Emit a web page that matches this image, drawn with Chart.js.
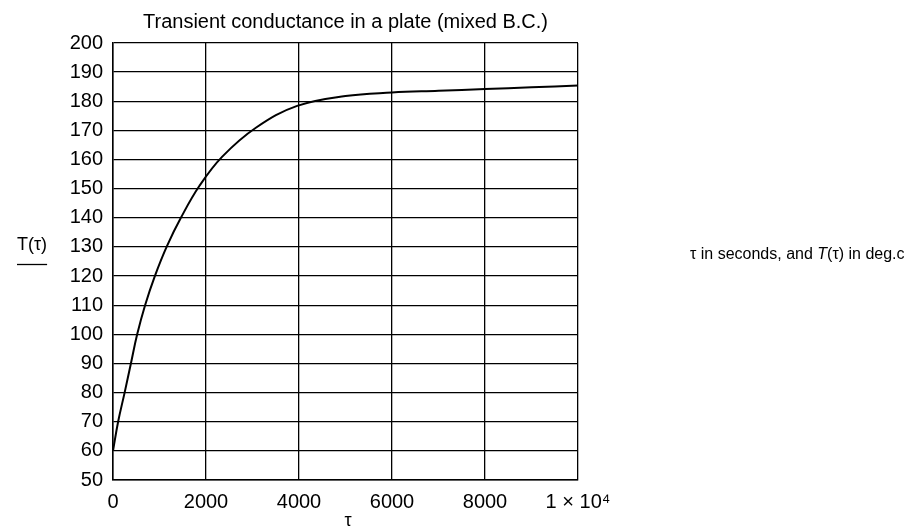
<!DOCTYPE html>
<html>
<head>
<meta charset="utf-8">
<script src="https://cdn.jsdelivr.net/npm/chart.js@4/dist/chart.umd.min.js"></script>
<style>
  html, body { margin: 0; padding: 0; background: #fff; }
  #wrap { width: 908px; height: 530px; position: relative; }
</style>
</head>
<body>
<div id="wrap"><canvas id="plateChart"></canvas></div>
<script>
// time in seconds and plate temperature in deg C
const tau = [0, 110, 250, 385, 520, 690, 900, 1160, 1460, 1860, 2350, 3080, 3960, 5000, 6000, 7000, 8000, 9000, 10000]
const temp = [60, 70, 80, 90, 100, 110, 120, 130.3, 140, 151, 161, 171, 178.4, 181.8, 183, 183.6, 184.2, 184.8, 185.4]

const xTicks = [0, 2000, 4000, 6000, 8000, 10000]
const xTickLabels = ['0', '2000', '4000', '6000', '8000', '1 \u00d7 10\u2074']

const titleText = 'Transient conductance in a plate (mixed B.C.)'
const yName = 'T(\u03c4)'
const xName = '\u03c4'

const FONT = '"Liberation Sans", Arial, sans-serif'

// labels around the plot
const textPlugin = {
    id: 'plateText',
    afterDraw(chart) {
        const ctx = chart.ctx
        const area = chart.chartArea
        ctx.save()
        ctx.fillStyle = '#000'
        ctx.strokeStyle = '#000'

        ctx.font = '20px ' + FONT
        ctx.textAlign = 'center'
        ctx.textBaseline = 'middle'
        ctx.fillText(titleText, (area.left + area.right) / 2, 22)

        // y name with underline
        ctx.font = '18px ' + FONT
        ctx.textAlign = 'left'
        ctx.fillText(yName, 17, 245)
        const w = ctx.measureText(yName).width
        ctx.lineWidth = 1.3
        ctx.beginPath()
        ctx.moveTo(17, 264.5)
        ctx.lineTo(17 + w, 264.5)
        ctx.stroke()

        ctx.font = '18px ' + FONT
        ctx.textAlign = 'center'
        ctx.fillText(xName, 348, 521)

        // units note on the right
        ctx.textAlign = 'left'
        let x = 690
        const y = 255
        const parts = [['\u03c4 in seconds, and ', ''], ['T', 'italic '], ['(\u03c4) in deg.c', '']]
        parts.forEach(([s, style]) => {
            ctx.font = style + '16px ' + FONT
            ctx.fillText(s, x, y)
            x += ctx.measureText(s).width
        })
        ctx.restore()
    }
}

const ctx = document.getElementById('plateChart')

new Chart(ctx, {
    type: 'line',
    data: {
        datasets: [{
            data: tau.map((t, i) => ({ x: t, y: temp[i] })),
            borderColor: '#000',
            borderWidth: 2,
            pointRadius: 0,
            tension: 0.4,
            fill: false
        }]
    },
    options: {
        responsive: true,
        maintainAspectRatio: false,
        animation: false,
        layout: { padding: { top: 43, right: 330, left: 0, bottom: 0 } },
        plugins: {
            legend: { display: false },
            tooltip: { enabled: false },
            title: { display: false }
        },
        scales: {
            x: {
                type: 'linear',
                min: 0,
                max: 10000,
                afterBuildTicks(scale) {
                    scale.ticks = xTicks.map(v => ({ value: v }))
                },
                afterFit(scale) { scale.height = 50 },
                ticks: {
                    color: '#000',
                    font: { family: FONT, size: 20 },
                    padding: 10,
                    maxRotation: 0,
                    autoSkip: false,
                    callback: (v) => xTickLabels[xTicks.indexOf(v)]
                },
                grid: { color: '#000', lineWidth: 1.3, drawTicks: false },
                border: { color: '#000', width: 1.5 }
            },
            y: {
                min: 50,
                max: 200,
                afterFit(scale) { scale.width = 113 },
                ticks: {
                    stepSize: 10,
                    color: '#000',
                    font: { family: FONT, size: 20 },
                    padding: 10
                },
                grid: { color: '#000', lineWidth: 1.3, drawTicks: false },
                border: { color: '#000', width: 1.5 }
            }
        }
    },
    plugins: [textPlugin]
})
</script>
</body>
</html>
